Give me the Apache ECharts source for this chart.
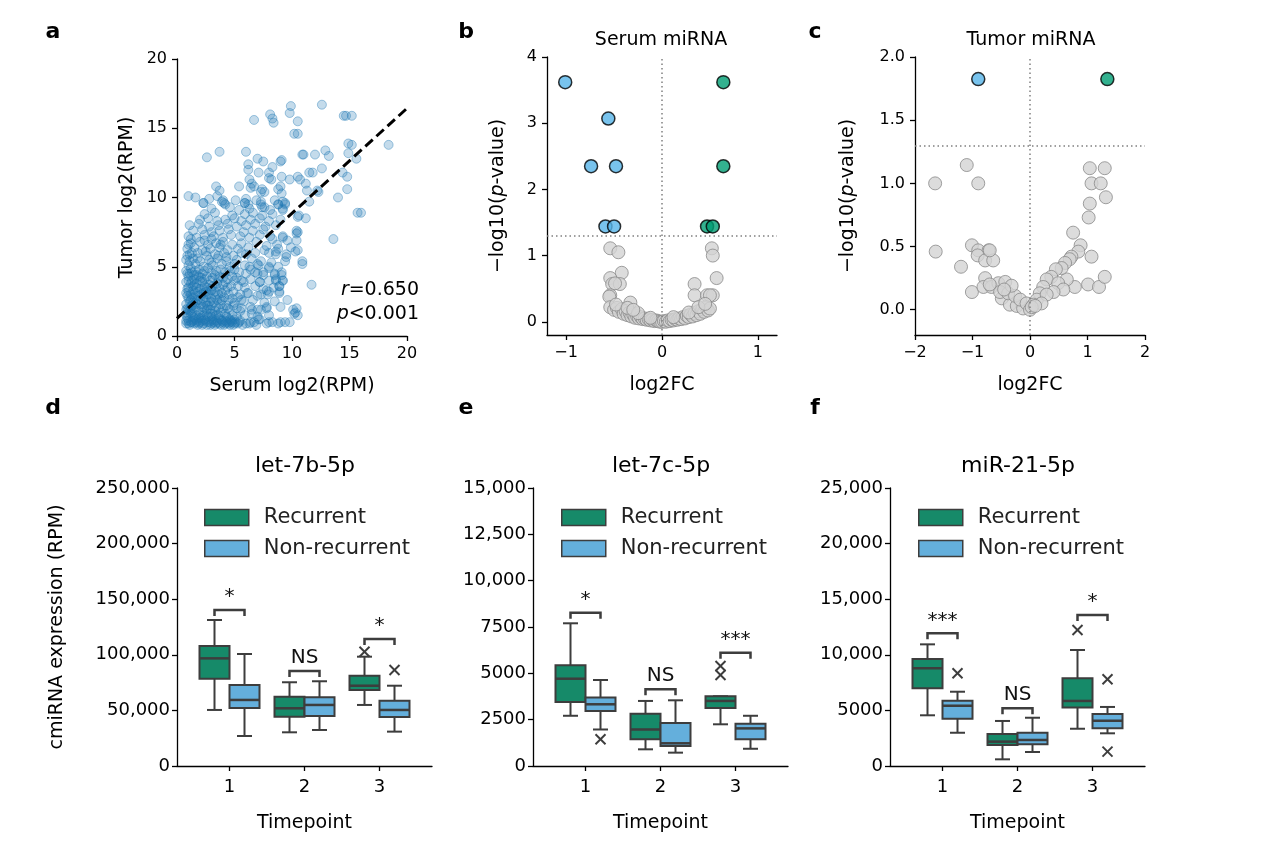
<!DOCTYPE html>
<html><head><meta charset="utf-8">
<script src="https://cdn.jsdelivr.net/npm/echarts@6/dist/echarts.min.js"></script>
<style>html,body{margin:0;padding:0;background:#fff}#c{width:1269px;height:851px}</style>
</head><body><div id="c"></div>
<script>
// ---------------- DATA ----------------
// Panel a: serum vs tumor log2(RPM)
const serumTumor = [
[0.8,0.9],[1.0,1.1],[1.1,0.8],[1.3,1.0],[1.5,0.9],[1.6,1.2],[1.8,0.8],[2.0,1.0],[2.1,1.3],[2.3,0.9],[2.5,1.1],[2.6,0.8],[2.8,1.0],[3.0,0.9],[3.1,1.2],[3.3,0.8],[3.5,1.0],[3.7,0.9],[3.9,1.1],[4.1,0.8],[4.3,1.0],[4.5,0.9],[4.7,1.1],[4.9,0.8],[5.1,1.0],[5.3,0.9],[0.9,1.3],[1.4,1.4],[2.7,1.4],[3.6,1.3],[4.4,1.3],[5.0,1.2],[6.0,0.9],[7.1,1.2],[7.8,0.9],[9.4,1.0],
[1.2,1.0],[1.7,1.0],[2.2,1.1],[2.9,0.8],[3.4,1.1],[4.0,1.0],[4.6,0.8],[0.8,1.1],[1.9,0.9],[2.4,1.2],[3.2,1.0],[3.8,1.2],[4.2,0.9],[4.8,1.0],
[0.8,1.5],[1.2,1.6],[1.7,1.5],[2.2,1.7],[2.6,1.5],[3.1,1.6],[3.6,1.5],[4.2,1.6],[4.8,1.5],
[1.0,1.9],[1.4,2.0],[1.9,1.8],[2.4,2.0],[2.9,1.9],[3.3,1.8],[4.0,2.0],[4.6,1.9],[5.2,2.0],
[0.8,2.3],[1.3,2.2],[1.6,2.4],[2.1,2.3],[2.7,2.2],[3.2,2.4],[3.8,2.3],[4.3,2.2],[5.0,2.4],
[1.0,2.7],[1.5,2.8],[2.0,2.6],[2.5,2.8],[3.0,2.7],[3.5,2.6],[4.1,2.8],[4.8,2.7],[5.6,2.6],
[0.8,3.1],[1.2,3.0],[1.8,3.2],[2.3,3.1],[2.8,3.0],[3.3,3.2],[3.9,3.1],[4.5,3.0],[6.1,3.1],
[1.0,3.5],[1.4,3.6],[2.0,3.4],[2.6,3.5],[3.1,3.6],[3.7,3.4],[4.4,3.5],[5.3,3.6],
[0.8,3.9],[1.3,4.0],[1.7,3.8],[2.2,3.9],[2.9,4.0],[3.5,3.8],[4.2,3.9],[5.0,4.0],[5.8,3.9],
[1.0,4.3],[1.5,4.4],[2.1,4.2],[2.6,4.3],[3.3,4.4],[4.0,4.2],[4.8,4.3],
[0.8,4.7],[1.3,4.6],[1.9,4.8],[2.4,4.7],[3.0,4.6],[3.8,4.8],[4.6,4.7],[5.4,4.6],[6.4,4.8],
[1.1,1.8],[1.6,2.1],[2.0,1.5],[2.5,2.4],[1.2,2.6],[1.8,2.9],[2.3,3.4],[1.0,3.2],[1.5,3.7],[2.7,3.0],[2.0,4.0],[1.1,4.5],[3.0,1.4],[3.4,2.1],[3.9,2.6],[0.9,2.0],[1.4,3.3],[2.8,3.7],[3.6,4.1],[1.7,4.4],
[0.9,1.6],[1.3,1.7],[1.5,1.3],[1.9,1.3],[2.3,1.5],[2.6,1.9],[2.9,1.6],[3.4,1.5],[3.8,1.7],[4.3,1.4],[4.6,1.2],[5.2,1.4],
[0.8,1.9],[1.2,2.1],[1.7,2.3],[2.2,2.1],[2.6,2.2],[3.0,2.2],[3.6,2.0],[4.4,2.0],[4.9,2.2],
[1.1,2.5],[1.4,2.4],[1.8,2.6],[2.3,2.7],[2.9,2.5],[3.3,2.8],[3.7,2.7],[4.5,2.6],[5.3,2.8],
[0.9,2.9],[1.3,2.8],[1.6,3.1],[2.1,3.0],[2.5,3.2],[3.0,3.3],[3.6,3.0],[4.2,3.3],[4.9,3.2],
[0.9,3.4],[1.2,3.8],[1.7,3.5],[2.4,3.6],[2.9,3.4],[3.4,3.5],[4.0,3.7],[4.7,3.6],
[1.0,4.0],[1.5,4.1],[1.9,4.3],[2.4,4.1],[3.1,4.2],[3.7,4.3],[4.4,4.1],[5.2,4.2],
[0.9,4.5],[1.2,4.9],[1.6,4.7],[2.2,4.5],[2.7,4.9],[3.4,4.7],[4.2,4.6],[5.0,4.8],
[1.0,0.9],[1.4,1.1],[1.8,1.1],[2.2,0.8],[2.6,1.0],[3.0,1.1],[3.4,0.9],[3.8,0.8],[4.2,1.1],[4.6,1.0],[5.0,0.9],[5.4,1.0],[5.7,0.8],[6.4,1.0],[6.9,0.8],[8.0,1.0],[8.8,0.9],[9.0,1.0],
[1.1,5.4],[1.3,6.0],[1.0,6.6],[1.2,7.0],[0.9,5.8],[1.8,5.6],[2.5,6.1],[3.0,5.3],[3.6,5.8],[4.3,5.7],[5.0,5.2],[5.6,6.0],[2.4,6.9],[3.0,7.0],[3.8,6.6],
[1.0,5.1],[1.6,5.2],[2.3,5.0],[3.1,5.1],[3.9,5.2],[4.6,5.0],[5.9,5.1],[7.0,5.2],
[0.8,5.5],[1.4,5.6],[2.0,5.4],[2.8,5.5],[3.5,5.6],[4.3,5.4],[5.2,5.5],[6.5,5.6],[7.3,5.4],
[1.1,5.9],[1.8,6.0],[2.6,5.8],[3.3,5.9],[4.1,6.0],[4.9,5.8],[6.0,5.9],[6.8,6.0],
[0.9,6.3],[1.5,6.4],[2.2,6.2],[2.9,6.3],[3.7,6.4],[4.4,6.2],[5.3,6.3],[6.2,6.4],[7.6,6.2],
[1.2,6.7],[2.0,6.8],[2.7,6.6],[3.4,6.7],[4.0,6.8],[4.8,6.6],[5.6,6.7],[6.9,6.8],
[1.0,7.2],[1.7,7.1],[2.4,7.3],[3.2,7.2],[4.0,7.1],[4.7,7.3],[5.5,7.2],[6.3,7.1],[7.2,7.3],[8.1,7.2],
[1.4,7.6],[2.2,7.7],[3.0,7.5],[3.7,7.6],[4.5,7.7],[5.8,7.5],[6.6,7.6],[7.5,7.7],
[1.1,8.0],[1.9,8.1],[2.8,7.9],[3.6,8.0],[4.4,8.1],[5.2,7.9],[6.0,8.0],[6.8,8.1],[7.7,7.9],[8.6,8.0],
[2.0,8.4],[2.7,8.5],[3.5,8.3],[4.2,8.4],[5.0,8.5],[5.6,8.3],[6.4,8.4],[7.2,8.5],[8.0,8.3],[9.0,8.4],
[2.4,8.8],[3.3,8.9],[4.8,8.7],[5.9,8.8],[6.6,8.9],[7.4,8.7],[8.3,8.8],
[3.0,9.2],[4.6,9.3],[5.4,9.1],[6.3,9.2],[7.4,9.3],[8.1,9.1],[9.2,9.2],
[2.3,9.6],[3.9,9.7],[4.2,9.5],[5.9,9.6],[7.3,9.7],[8.8,9.5],[9.4,9.6],
[5.9,1.5],[6.5,1.6],[7.0,1.4],[8.0,1.5],
[5.6,2.0],[6.4,2.1],[7.3,1.9],[7.8,2.0],[9.0,2.1],
[5.8,2.5],[6.6,2.6],[7.6,2.4],[8.5,2.5],[9.6,2.6],
[5.5,3.0],[6.2,3.1],[7.0,2.9],[7.9,3.0],[8.9,3.1],
[5.9,3.5],[6.8,3.6],[7.5,3.4],[8.4,3.5],[8.9,3.6],
[5.6,4.0],[6.4,4.1],[7.2,3.9],[8.0,4.0],[8.6,4.1],[9.2,4.0],
[6.0,4.5],[6.8,4.6],[7.5,4.4],[8.5,4.5],[9.1,4.6],
[6.3,5.0],[7.1,5.1],[8.0,4.9],[8.8,5.0],
[8.0,6.0],[8.6,6.1],[9.5,5.9],[7.8,6.5],[8.7,6.6],[9.9,6.4],[8.3,7.0],[9.2,7.1],[10.4,6.9],
[9.9,16.6],[9.8,16.1],[8.1,16.0],[8.3,15.7],[8.4,15.4],[6.7,15.6],[10.2,14.6],[2.6,12.9],[3.7,13.3],[6.0,13.3],[7.0,12.8],[7.5,12.6],[6.2,12.4],[6.2,12.0],[9.1,12.7],[9.0,12.6],[7.1,11.8],[8.0,11.8],[8.3,12.2],[8.0,11.4],[8.2,11.3],[9.1,11.5],[9.8,11.3],[6.3,11.3],[6.5,11.0],[6.4,10.7],[6.7,10.8],[5.4,10.8],[3.4,10.8],[3.7,10.5],[7.4,10.6],[7.6,10.4],[7.3,10.4],[8.8,10.6],[9.0,10.8],[9.1,10.3],[1.0,10.1],[1.6,10.0],[2.8,9.9],[2.3,9.6],[3.5,10.1],[4.0,9.8],[4.1,9.6],[5.1,9.8],[6.0,9.9],[5.9,9.6],[6.2,9.5],[6.9,9.8],[7.3,9.5],[7.6,9.3],[8.5,9.8],[8.8,9.5],[9.2,9.7],[9.4,9.5],[9.2,9.1],
[12.6,16.7],[14.5,15.9],[14.7,15.9],[15.2,15.9],[10.5,15.5],[10.5,14.6],[14.9,13.9],[15.2,13.8],[14.9,13.2],[18.4,13.8],[10.9,13.1],[11.0,13.1],[12.0,13.1],[12.9,13.4],[13.2,13.0],[15.6,12.8],[11.5,11.8],[11.8,11.8],[12.6,12.1],[14.4,11.8],[14.8,11.5],[10.5,11.5],[10.7,11.3],[11.2,11.0],[11.3,10.5],[12.2,10.5],[12.3,10.4],[14.0,10.0],[14.8,10.6],[11.5,9.7],[15.7,8.9],[16.0,8.9],
[10.5,8.6],[11.2,8.5],[10.6,8.7],[10.5,7.5],[10.4,7.6],[13.6,7.0],[10.5,6.2],[10.9,5.4],[10.9,5.2],[11.7,3.7],[10.4,2.0],[10.5,1.5],[10.3,1.7],
[10.4,7.4],[10.3,6.1],[9.6,6.9],[9.2,7.2],[9.5,5.7],[9.4,5.4],[9.1,4.4],[9.2,4.0],[8.9,3.6],[8.9,3.2],[8.8,6.3],[8.6,5.9],[10.1,1.9],[10.2,1.6],[9.8,1.0],[8.3,1.0],[8.0,3.2],[7.8,3.3],[7.3,3.0],[7.2,1.2],[6.7,1.0],[7.8,2.1],[7.0,1.9],[6.5,1.9],[8.5,4.4],[8.6,4.0],[8.2,5.3],[8.0,5.0],[7.5,4.6],[7.0,4.5],[7.2,3.9],[6.3,0.9],[5.5,1.8],[5.5,1.1]
];
const regLine = [[0, 1.28], [20, 16.44]];
const corrText = ['0.650', '<0.001'];
const aTicks = [0, 5, 10, 15, 20];

// Panel b: serum volcano (log2FC, -log10 p)
const bUp = [[0.64,3.62],[0.64,2.35],[0.47,1.44],[0.53,1.44]];
const bDown = [[-1.01,3.62],[-0.56,3.07],[-0.74,2.35],[-0.48,2.35],[-0.59,1.44],[-0.50,1.44]];
const bNS = [
[-0.54,1.11],[-0.455,1.05],[-0.42,0.74],[-0.54,0.66],[-0.52,0.57],[-0.44,0.57],[-0.49,0.58],[-0.54,0.40],[-0.55,0.38],[-0.33,0.29],
[0.52,1.11],[0.53,1.0],[0.57,0.66],[0.34,0.57],[0.34,0.40],[0.47,0.40],[0.53,0.40],[0.50,0.40],
[-0.54,0.22],[-0.5,0.18],[-0.47,0.21],[-0.45,0.15],[-0.42,0.19],[-0.40,0.12],[-0.38,0.16],[-0.36,0.10],[-0.34,0.14],[-0.32,0.08],[-0.30,0.11],[-0.28,0.06],[-0.26,0.09],[-0.24,0.05],[-0.22,0.07],[-0.20,0.04],[-0.18,0.05],[-0.16,0.03],[-0.14,0.04],[-0.12,0.02],[-0.10,0.03],[-0.08,0.01],[-0.06,0.02],[-0.04,0.01],[-0.02,0.0],[0,0.0],[0.02,0.01],[0.04,0.0],[0.06,0.02],[0.08,0.01],[0.10,0.03],[0.12,0.02],[0.14,0.04],[0.16,0.03],[0.18,0.05],[0.20,0.04],[0.22,0.07],[0.24,0.05],[0.26,0.09],[0.28,0.07],[0.30,0.11],[0.32,0.08],[0.34,0.13],[0.36,0.10],[0.38,0.16],[0.40,0.12],[0.42,0.19],[0.44,0.15],[0.46,0.22],[0.48,0.17],[0.50,0.20],[-0.48,0.26],[-0.36,0.21],[-0.25,0.13],[0.28,0.14],[0.38,0.22],[0.45,0.27],[-0.3,0.18],[-0.12,0.06],[0.12,0.07]
];
const bXTicks = [-1, 0, 1];
const bYTicks = [0, 1, 2, 3, 4];

// Panel c: tumor volcano
const cUp = [[1.345,1.825]];
const cDown = [[-0.90,1.825]];
const cNS = [
[-1.65,1.0],[-1.10,1.145],[-0.90,1.0],[-1.64,0.46],[-1.20,0.34],[-1.01,0.51],[-0.90,0.47],[-0.72,0.47],[-0.91,0.43],[-0.78,0.39],[-0.64,0.39],[-0.70,0.47],[-1.01,0.14],[-0.78,0.25],[-0.81,0.18],[-0.67,0.18],[-0.55,0.21],[-0.43,0.22],[-0.49,0.09],[-0.35,0.04],[-0.23,0.03],[-0.12,0.01],[-0.52,0.14],[-0.38,0.13],[-0.26,0.11],[-0.17,0.08],[-0.06,0.05],[0,0],[-0.32,0.19],[-0.70,0.20],[-0.45,0.16],
[1.04,1.12],[1.30,1.12],[1.07,1.0],[1.23,1.0],[1.32,0.89],[1.04,0.84],[1.02,0.73],[0.75,0.61],[0.88,0.51],[0.84,0.46],[0.72,0.42],[1.07,0.42],[1.01,0.20],[1.20,0.18],[1.30,0.26],[0.78,0.18],[0.64,0.24],[0.69,0.40],[0.61,0.37],[0.55,0.33],[0.45,0.32],[0.37,0.26],[0.29,0.24],[0.23,0.18],[0.17,0.13],[0.12,0.08],[0.06,0.04],[0.49,0.21],[0.58,0.16],[0.41,0.14],[0.29,0.12],[0.20,0.05],[0.03,0.02],[0.09,0.03]
];
const cXTicks = [-2, -1, 0, 1, 2];
const cYTicks = [0, 0.5, 1, 1.5, 2];
const pThreshold = 1.301;

// Panels d-f: boxplot stats [timepoint index, low whisker, q1, median, q3, high whisker]
const timepoints = ['1', '2', '3'];
const dRec = [[0,50400,78500,96800,108000,131300],[1,30300,44300,51900,62300,75300],[2,54900,68300,72200,81200,98300]];
const dNon = [[0,27000,52200,59400,72800,100700],[1,32400,45000,54900,61800,76200],[2,30900,44100,50400,58700,72200]];
const dRecOut = [[2,102800]];
const dNonOut = [[2,86300]];
const dSig = [[0,140300],[1,85400],[2,114200]];
const dSigLabels = ['*','NS','*'];
const dYTicks = ['0','50,000','100,000','150,000','200,000','250,000'];

const eRec = [[0,2710,3450,4710,5430,7700],[1,900,1440,1970,2820,3510],[2,2250,3130,3510,3760,3760]];
const eNon = [[0,1970,2970,3330,3690,4640],[1,720,1080,1225,2320,3545],[2,930,1440,2030,2280,2710]];
const eRecOut = [[2,5400],[2,4910]];
const eNonOut = [[0,1440]];
const eSig = [[0,8270],[1,4140],[2,6110]];
const eSigLabels = ['*','NS','***'];
const eYTicks = ['0','2500','5000','7500','10,000','12,500','15,000'];

const fRec = [[0,4560,6990,8790,9620,10940],[1,600,1890,2190,2880,4050],[2,3350,5250,5850,7890,10430]];
const fNon = [[0,2990,4250,5420,5870,6680],[1,1260,1950,2340,2990,4340],[2,2940,3390,4070,4680,5310]];
const fRecOut = [[2,12230]];
const fNonOut = [[0,8340],[2,7800],[2,1290]];
const fSig = [[0,11930],[1,5190],[2,13580]];
const fSigLabels = ['***','NS','*'];
const fYTicks = ['0','5000','10,000','15,000','20,000','25,000'];

// ---------------- STYLE ----------------
const FONT = 'DejaVu Sans';
const GREEN_BOX = '#168a69', BLUE_BOX = '#64afdc';
const GREEN_PT = '#009e73', BLUE_PT = '#56b4e9';
const EDGE = '#3d3d3d';
const minus = s => String(s).replace('-', '\u2212');

const chart = echarts.init(document.getElementById('c'), null, {renderer: 'canvas'});

function ax(extra) {
  return Object.assign({
    type: 'value',
    axisLine: {show: true, onZero: false, lineStyle: {color: '#000', width: 1.3}},
    axisTick: {show: true, length: 5, lineStyle: {color: '#000', width: 1.3}},
    axisLabel: {color: '#000', fontFamily: FONT, fontSize: 16, margin: 10},
    splitLine: {show: false},
    nameTextStyle: {color: '#000', fontFamily: FONT, fontSize: 19},
    nameLocation: 'middle'
  }, extra);
}
function custTicks(vals, fmt, size, margin) {
  return {
    axisTick: {show: true, length: 5, customValues: vals, lineStyle: {color: '#000', width: 1.3}},
    axisLabel: {color: '#000', fontFamily: FONT, fontSize: size || 16, margin: margin || 10, customValues: vals, formatter: fmt}
  };
}

const grids = [
  {left: 177, top: 59, width: 230, height: 277},
  {left: 547, top: 57, width: 230, height: 278},
  {left: 915, top: 57, width: 230, height: 278},
  {left: 177, top: 488, width: 255, height: 278},
  {left: 533, top: 488, width: 255, height: 278},
  {left: 890, top: 488, width: 255, height: 278}
];

const pvalName = {
  name: '{n|\u2212log10(}{i|p}{n|-value)}',
  nameTextStyle: {rich: {n: {fontFamily: FONT, fontSize: 19, color: '#000'}, i: {fontFamily: FONT, fontSize: 19, fontStyle: 'italic', color: '#000'}}}
};

const boxX = gi => ax(Object.assign({gridIndex: gi, min: -0.7, max: 2.7, name: 'Timepoint', nameGap: 48},
  custTicks([0, 1, 2], v => timepoints[v], 18, 12)));
const boxY = (gi, max, interval, labels) => ax({gridIndex: gi, min: 0, max: max, interval: interval,
  axisLabel: {color: '#000', fontFamily: FONT, fontSize: 18, margin: 7, formatter: v => labels[Math.round(v / interval)]}});

const xAxes = [
  ax({gridIndex: 0, min: 0, max: 20, interval: 5, name: 'Serum log2(RPM)', nameGap: 41,
      axisLabel: {color: '#000', fontFamily: FONT, fontSize: 16, margin: 10, formatter: v => String(aTicks[v / 5])}}),
  ax(Object.assign({gridIndex: 1, min: -1.2, max: 1.2, name: 'log2FC', nameGap: 41}, custTicks(bXTicks, v => minus(v)))),
  ax(Object.assign({gridIndex: 2, min: -2, max: 2, interval: 1, name: 'log2FC', nameGap: 41}, custTicks(cXTicks, v => minus(v)))),
  boxX(3), boxX(4), boxX(5)
];
const yAxes = [
  ax({gridIndex: 0, min: 0, max: 20, interval: 5, name: 'Tumor log2(RPM)', nameGap: 40}),
  ax(Object.assign({gridIndex: 1, min: -0.2, max: 4, nameGap: 39}, pvalName, custTicks(bYTicks, v => String(v)))),
  ax(Object.assign({gridIndex: 2, min: -0.2, max: 2, nameGap: 57}, pvalName, custTicks(cYTicks, v => v.toFixed(1)))),
  boxY(3, 250000, 50000, dYTicks),
  boxY(4, 15000, 2500, eYTicks),
  boxY(5, 25000, 5000, fYTicks)
];
yAxes[3].name = 'cmiRNA expression (RPM)';
yAxes[3].nameGap = 110;

// ---------- renderers ----------
function boxRender(off, fill) {
  return function (params, api) {
    const x = api.value(0) + off;
    const lo = api.value(1), q1 = api.value(2), med = api.value(3), q3 = api.value(4), hi = api.value(5);
    const tl = api.coord([x - 0.2, q3]), br = api.coord([x + 0.2, q1]);
    const cx = api.coord([x, med])[0];
    const yMed = api.coord([x, med])[1], yLo = api.coord([x, lo])[1], yHi = api.coord([x, hi])[1];
    const cl = api.coord([x - 0.1, lo])[0], cr = api.coord([x + 0.1, lo])[0];
    const st = {stroke: EDGE, lineWidth: 2};
    return {type: 'group', children: [
      {type: 'line', shape: {x1: cx, y1: yHi, x2: cx, y2: tl[1]}, style: st},
      {type: 'line', shape: {x1: cx, y1: br[1], x2: cx, y2: yLo}, style: st},
      {type: 'line', shape: {x1: cl, y1: yHi, x2: cr, y2: yHi}, style: st},
      {type: 'line', shape: {x1: cl, y1: yLo, x2: cr, y2: yLo}, style: st},
      {type: 'rect', shape: {x: tl[0], y: tl[1], width: br[0] - tl[0], height: br[1] - tl[1]}, style: {fill: fill, stroke: EDGE, lineWidth: 2}},
      {type: 'line', shape: {x1: tl[0], y1: yMed, x2: br[0], y2: yMed}, style: {stroke: EDGE, lineWidth: 2.5}}
    ]};
  };
}
function outRender(off) {
  return function (params, api) {
    const p = api.coord([api.value(0) + off, api.value(1)]);
    const s = 5, st = {stroke: EDGE, lineWidth: 2};
    return {type: 'group', children: [
      {type: 'line', shape: {x1: p[0] - s, y1: p[1] - s, x2: p[0] + s, y2: p[1] + s}, style: st},
      {type: 'line', shape: {x1: p[0] - s, y1: p[1] + s, x2: p[0] + s, y2: p[1] - s}, style: st}
    ]};
  };
}
function sigRender(labels) {
  return function (params, api) {
    const t = api.value(0), y = api.value(1);
    const l = api.coord([t - 0.2, y]), r = api.coord([t + 0.2, y]);
    const leg = 6;
    return {type: 'group', children: [
      {type: 'polyline', shape: {points: [[l[0], l[1] + leg], [l[0], l[1]], [r[0], r[1]], [r[0], r[1] + leg]]}, style: {stroke: EDGE, lineWidth: 2.5, fill: null}},
      {type: 'text', x: (l[0] + r[0]) / 2, y: l[1] - 3, style: {text: labels[params.dataIndex], font: '20px ' + FONT, fill: '#111', align: 'center', verticalAlign: 'bottom'}}
    ]};
  };
}

const series = [];
// panel a
series.push({type: 'scatter', xAxisIndex: 0, yAxisIndex: 0, data: serumTumor, symbolSize: 9,
  itemStyle: {color: 'rgba(31,119,180,0.33)', borderColor: 'rgba(31,119,180,0.5)', borderWidth: 1}, silent: true});
series.push({type: 'line', xAxisIndex: 0, yAxisIndex: 0, data: regLine, symbol: 'none', z: 5,
  lineStyle: {color: '#000', width: 3, type: [10, 5]}, silent: true});
// volcano panels
function volcano(gi, ns, up, down) {
  series.push({type: 'scatter', xAxisIndex: gi, yAxisIndex: gi, data: ns, symbolSize: 13,
    itemStyle: {color: '#d3d3d3', borderColor: '#8a8a8a', borderWidth: 1}, silent: true,
    markLine: {silent: true, symbol: 'none', label: {show: false},
      lineStyle: {color: '#808080', width: 1.5, type: [1.5, 3]},
      data: [{yAxis: pThreshold}, {xAxis: 0}]}});
  series.push({type: 'scatter', xAxisIndex: gi, yAxisIndex: gi, data: down, symbolSize: 13, z: 4,
    itemStyle: {color: BLUE_PT, borderColor: '#000', borderWidth: 1.5}, silent: true});
  series.push({type: 'scatter', xAxisIndex: gi, yAxisIndex: gi, data: up, symbolSize: 13, z: 4,
    itemStyle: {color: GREEN_PT, borderColor: '#000', borderWidth: 1.5}, silent: true});
}
volcano(1, bNS, bUp, bDown);
volcano(2, cNS, cUp, cDown);
// box panels
function boxPanel(gi, rec, non, recOut, nonOut, sig, sigLabels) {
  series.push({type: 'custom', name: 'Recurrent', xAxisIndex: gi, yAxisIndex: gi, data: rec,
    encode: {x: 0, y: [1, 2, 3, 4, 5]}, renderItem: boxRender(-0.2, GREEN_BOX),
    itemStyle: {color: GREEN_BOX, borderColor: EDGE, borderWidth: 1.5}, silent: true, z: 3});
  series.push({type: 'custom', name: 'Non-recurrent', xAxisIndex: gi, yAxisIndex: gi, data: non,
    encode: {x: 0, y: [1, 2, 3, 4, 5]}, renderItem: boxRender(0.2, BLUE_BOX),
    itemStyle: {color: BLUE_BOX, borderColor: EDGE, borderWidth: 1.5}, silent: true, z: 3});
  series.push({type: 'custom', xAxisIndex: gi, yAxisIndex: gi, data: recOut, encode: {x: 0, y: 1},
    renderItem: outRender(-0.2), silent: true, z: 4});
  series.push({type: 'custom', xAxisIndex: gi, yAxisIndex: gi, data: nonOut, encode: {x: 0, y: 1},
    renderItem: outRender(0.2), silent: true, z: 4});
  series.push({type: 'custom', xAxisIndex: gi, yAxisIndex: gi, data: sig, encode: {x: 0, y: 1},
    renderItem: sigRender(sigLabels), silent: true, z: 5, clip: false});
}
boxPanel(3, dRec, dNon, dRecOut, dNonOut, dSig, dSigLabels);
boxPanel(4, eRec, eNon, eRecOut, eNonOut, eSig, eSigLabels);
boxPanel(5, fRec, fNon, fRecOut, fNonOut, fSig, fSigLabels);

function legendAt(left) {
  return {left: left, top: 502, orient: 'vertical', icon: 'rect', itemWidth: 44, itemHeight: 16, itemGap: 10,
    selectedMode: false,
    textStyle: {fontFamily: FONT, fontSize: 21, color: '#222', padding: [0, 0, 0, 10]},
    data: [
      {name: 'Recurrent', itemStyle: {color: GREEN_BOX, borderColor: EDGE, borderWidth: 1.5}},
      {name: 'Non-recurrent', itemStyle: {color: BLUE_BOX, borderColor: EDGE, borderWidth: 1.5}}
    ]};
}

const txt = (x, y, text, size, weight, align) => ({type: 'text', x: x, y: y, silent: true,
  style: {text: text, font: (weight || 'normal') + ' ' + size + 'px ' + FONT, fill: '#000', align: align || 'center', verticalAlign: 'middle'}});
const graphics = [
  txt(53, 32, 'a', 22, 'bold'), txt(466, 32, 'b', 22, 'bold'), txt(815, 32, 'c', 22, 'bold'),
  txt(53, 408, 'd', 22, 'bold'), txt(466, 408, 'e', 22, 'bold'), txt(815, 408, 'f', 22, 'bold'),
  txt(661, 40, 'Serum miRNA', 19), txt(1031, 40, 'Tumor miRNA', 19),
  txt(305, 466, 'let-7b-5p', 22), txt(661, 466, 'let-7c-5p', 22), txt(1018, 466, 'miR-21-5p', 22),
  {type: 'text', x: 419, y: 290, silent: true, style: {text: '{i|r}{n|=' + corrText[0] + '}', align: 'right', verticalAlign: 'middle',
    rich: {i: {font: 'italic 19px ' + FONT, fill: '#000'}, n: {font: '19px ' + FONT, fill: '#000'}}}},
  {type: 'text', x: 419, y: 314, silent: true, style: {text: '{i|p}{n|' + corrText[1] + '}', align: 'right', verticalAlign: 'middle',
    rich: {i: {font: 'italic 19px ' + FONT, fill: '#000'}, n: {font: '19px ' + FONT, fill: '#000'}}}}
];

chart.setOption({
  backgroundColor: '#fff',
  animation: false,
  textStyle: {fontFamily: FONT},
  grid: grids,
  xAxis: xAxes,
  yAxis: yAxes,
  legend: [legendAt(199), legendAt(556), legendAt(913)],
  series: series,
  graphic: graphics
});
</script></body></html>
